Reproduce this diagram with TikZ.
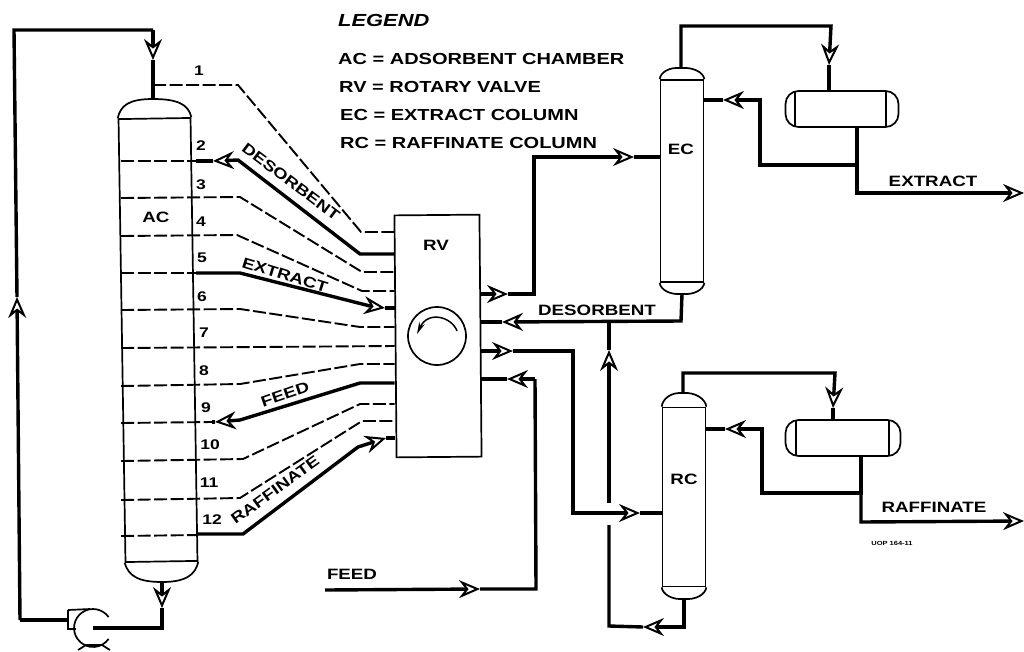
\documentclass[tikz,border=0pt]{standalone}
\usepackage{fontspec}
\setmainfont[FakeStretch=1.25]{Liberation Sans}
\usetikzlibrary{arrows.meta}
\tikzset{
  vsl/.style={draw, line width=1.7pt, inner sep=0pt},
  col/.style={vsl, minimum width=43pt},
  drum/.style={vsl, rounded corners=13pt, minimum height=36pt},
  lbl/.style={inner sep=0pt, font=\bfseries\fontsize{15}{15}\selectfont},
  lgd/.style={lbl, anchor=west, font=\bfseries\fontsize{16}{16}\selectfont},
  num/.style={inner sep=0pt, font=\bfseries\fontsize{14}{14}\selectfont},
  wall/.style={line width=1.7pt},
  tray/.style={line width=1.9pt, dash pattern=on 13pt off 3.5pt},
  flow/.style={line width=3.4pt},
  arr/.style={flow, -{Stealth[open, length=21pt, width=18pt, inset=7pt, line width=2pt]}},
}
\begin{document}
\begin{tikzpicture}[x=1pt, y=-1pt]
  \useasboundingbox (0,0) rectangle (1024,651);
  % vessels
  \node[vsl, minimum width=72pt, minimum height=443pt, rotate=0.9](ac) at (158,340){};
  \node[vsl, minimum width=85pt, minimum height=242pt, rotate=0.5](rv) at (438,336){};
  \node[col, minimum height=202pt](ec) at (682,181){};
  \node[col, minimum height=179pt](rc) at (684,497){};
  \node[drum, minimum width=113pt](ed) at (842,109){};
  \node[drum, minimum width=115pt](rd) at (843,438){};
  \node[draw, circle, line width=1.7pt, minimum size=58pt, inner sep=0pt](dial) at (437,336){};
  \coordinate (actop) at (153,99); \coordinate (acbot) at (162,582);
  \coordinate (ectop) at (681,68); \coordinate (ecbot) at (682,294);
  \coordinate (rctop) at (683,393); \coordinate (rcbot) at (684,599);
  \coordinate (pump) at (93,628); \coordinate (looptop) at (153,30);
  % heads of the columns
  \draw[wall] (ac.north west) .. controls +(3,-13) and +(-24,0) .. (actop) .. controls +(24,0) and +(-3,-13) .. (ac.north east);
  \draw[wall] (ac.south west) .. controls +(4,13) and +(-24,0) .. (acbot) .. controls +(24,0) and +(-3,13) .. (ac.south east);
  \draw[wall] (ec.north west) .. controls +(1,-7) and +(-12,-1) .. (ectop) .. controls +(12,-1) and +(-1,-7) .. (ec.north east);
  \draw[wall] (ec.south west) .. controls +(1,7) and +(-12,1) .. (ecbot) .. controls +(12,1) and +(-1,7) .. (ec.south east);
  \draw[wall] (rc.north west) .. controls +(1,-8) and +(-12,-1) .. (rctop) .. controls +(12,-1) and +(-1,-8) .. (rc.north east);
  \draw[wall] (rc.south west) .. controls +(1,7) and +(-12,1) .. (rcbot) .. controls +(12,1) and +(-1,7) .. (rc.south east);
  \draw[wall] (795,91)--(795,127); \draw[wall] (886,91)--(886,127);
  \draw[wall] (796,420)--(796,456); \draw[wall] (889,420)--(889,456);
  % pump
  \draw[wall] (108.6,617.1) arc[start angle=35, end angle=325, radius=19pt];
  \draw[wall] (68,610)--(90,609); \draw[wall] (68,610)--(68,630); \draw[wall] (68,629)--(76,629);
  \draw[wall] (78,650)--(86,645)--(102,645)--(110,650);
  % dial
  \draw[line width=1.5pt, -{Stealth[length=12pt, width=6pt]}] (457,331) .. controls (452,317) and (428,310) .. (417,334);
  % trays
  \draw[tray] (153,85)--(238,85)--(361,232)--(rv.west |- 0,232);
  \draw[tray] (ac.west |- 0,161)--(196,161);
  \draw[tray] (ac.west |- 0,198)--(240,197)--(362,272)--(rv.west |- 0,272);
  \draw[tray] (ac.west |- 0,236)--(237,235)--(362,291)--(rv.west |- 0,291);
  \draw[tray] (ac.west |- 0,273)--(196,273);
  \draw[tray] (ac.west |- 0,310)--(240,309)--(360,327)--(rv.west |- 0,327);
  \draw[tray] (ac.west |- 0,348)--(rv.west |- 0,346);
  \draw[tray] (ac.west |- 0,386)--(240,384)--(360,364)--(rv.west |- 0,364);
  \draw[tray] (ac.west |- 0,423)--(212,422);
  \draw[tray] (ac.west |- 0,461)--(243,459)--(360,404)--(rv.west |- 0,404);
  \draw[tray] (ac.west |- 0,500)--(240,498)--(362,421)--(rv.west |- 0,421);
  \draw[tray] (ac.west |- 0,536)--(198,535);
  % thick streams on the trays
  \draw[arr] (rv.west |- 0,254)--(360,254)--(238,160)--(213,161); \draw[flow] (213,161)--(196,161);
  \draw[arr] (196,273)--(240,273)--(370,306)--(385,308); \draw[flow] (385,308)--(rv.west |- 0,308);
  \draw[arr] (rv.west |- 0,383)--(360,383)--(240,420)--(215,422); \draw[flow] (215,422)--(212,422);
  \draw[arr] (198,534)--(243,534)--(358,447)--(386,438); \draw[flow] (386,438)--(rv.west |- 0,438);
  % recycle loop
  \draw[arr] (looptop)--(153,60);
  \draw[flow] (153,60)--(actop);
  \draw[arr] (20,620)--(17,297);
  \draw[flow] (17,297)--(14,30)--(looptop);
  \draw[arr] (acbot)--(162,608);
  \draw[flow] (162,608)--(162,628)--(pump);
  \draw[flow] (68,620)--(20,620);
  % right side
  \draw[arr] (rv.east |- 0,294)--(508,294); \draw[flow] (508,294)--(534,294)--(534,157)--(600,157);
  \draw[arr] (600,157)--(634,157); \draw[flow] (634,157)--(ec.west |- 0,157);
  \draw[arr] (ecbot)--(681,321)--(502,322); \draw[flow] (502,322)--(rv.east |- 0,322);
  \draw[arr] (609,503)--(609,350); \draw[flow] (609,350)--(609,322);
  \draw[arr] (rcbot)--(684,627)--(643,627); \draw[flow] (643,627)--(609,626)--(609,525);
  \draw[arr] (rv.east |- 0,351)--(513,351); \draw[flow] (513,351)--(573,351)--(573,513)--(620,513);
  \draw[arr] (620,513)--(640,513); \draw[flow] (640,513)--(rc.west |- 0,513);
  \draw[arr] (325,590)--(480,589); \draw[flow] (480,589)--(536,589)--(535,379);
  \draw[arr] (535,379)--(507,379); \draw[flow] (507,379)--(rv.east |- 0,379);
  % extract column loop
  \draw[arr] (ectop)--(681,26)--(831,26)--(829,65); \draw[flow] (829,65)--(ed.north -| 829,0);
  \draw[arr] (857,127)--(857,165)--(760,165)--(760,100)--(723,100); \draw[flow] (723,100)--(ec.east |- 0,100);
  \draw[arr] (857,165)--(857,193)--(1024,193);
  % raffinate column loop
  \draw[arr] (rctop)--(683,373)--(835,373)--(833,408); \draw[flow] (833,408)--(833,420);
  \draw[arr] (861,457)--(861,493)--(762,493)--(762,429)--(725,429); \draw[flow] (725,429)--(rc.east |- 0,429);
  \draw[arr] (861,493)--(861,522)--(1024,521);
  % labels
  \node[lgd, font=\bfseries\itshape\fontsize{17.5}{17.5}\selectfont](lg) at (338,20){LEGEND};
  \node[lgd](la) at (338,59){AC = ADSORBENT CHAMBER};
  \node[lgd](lb) at (339,87){RV = ROTARY VALVE};
  \node[lgd](lc) at (340,115){EC = EXTRACT COLUMN};
  \node[lgd](ld) at (340,143){RC = RAFFINATE COLUMN};
  \node[lbl](tac) at (156,217){AC}; \node[lbl](trv) at (436,245){RV};
  \node[lbl](tec) at (681,149){EC}; \node[lbl](trc) at (684,479){RC};
  \node[num](n1) at (199,71){1}; \node[num](n2) at (201,146){2};
  \node[num](n3) at (201,185){3}; \node[num](n4) at (201,222){4};
  \node[num](n5) at (202,258){5}; \node[num](n6) at (202,297){6};
  \node[num](n7) at (204,333){7}; \node[num](n8) at (204,371){8};
  \node[num](n9) at (206,408){9}; \node[num](n10) at (210,445){10};
  \node[num](n11) at (209,483){11}; \node[num](n12) at (212,520){12};
  \node[lbl, rotate=-37](sd) at (291,182){DESORBENT};
  \node[lbl, rotate=-17](se) at (285,275){EXTRACT};
  \node[lbl, rotate=19](sf) at (285,394){FEED};
  \node[lbl, rotate=36](sr) at (275,490){RAFFINATE};
  \node[lbl](fd) at (352,574){FEED};
  \node[lbl](ds) at (597,310){DESORBENT};
  \node[lbl](ex) at (933,181){EXTRACT};
  \node[lbl](rf) at (934,507){RAFFINATE};
  \node[inner sep=0pt, font=\bfseries\fontsize{6}{6}\selectfont](uop) at (892,543){UOP 164-11};
\end{tikzpicture}
\end{document}
